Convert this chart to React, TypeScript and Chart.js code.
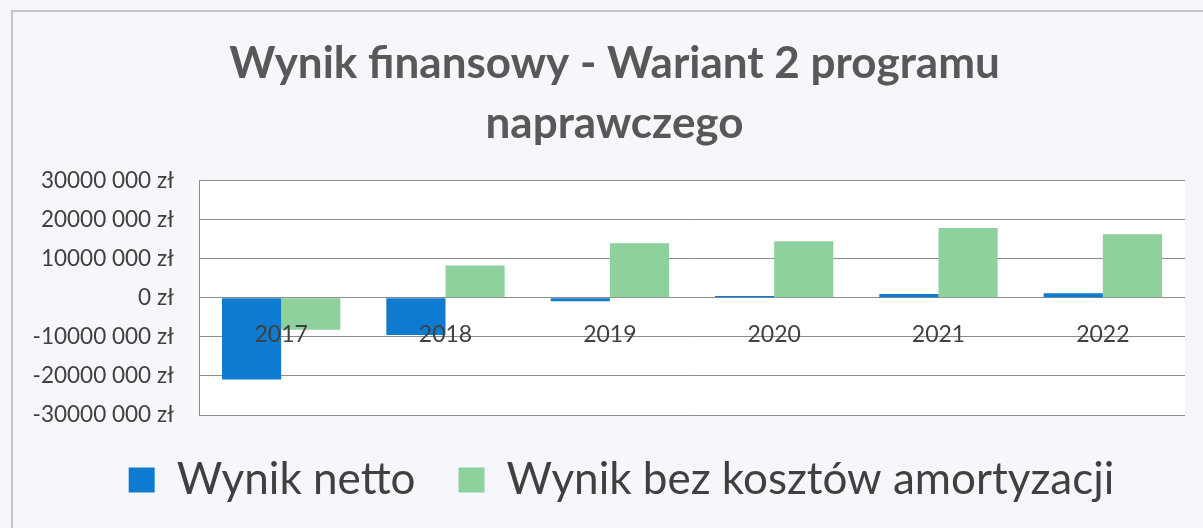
import React, { useEffect, useRef } from 'react';
import { Chart, registerables } from 'chart.js';

Chart.register(...registerables);

const titleLines = ['Wynik finansowy - Wariant 2 programu', 'naprawczego'];
const categories = ['2017', '2018', '2019', '2020', '2021', '2022'];
const seriesNames = ['Wynik netto', 'Wynik bez kosztów amortyzacji'];
const netResult = [-20900000, -9500000, -900000, 450000, 1000000, 1200000];
const resultExDepreciation = [-8200000, 8300000, 14000000, 14500000, 17900000, 16300000];
const yTickValues = [-30000000, -20000000, -10000000, 0, 10000000, 20000000, 30000000];
const yTickLabels = [
  '-30000 000 zł',
  '-20000 000 zł',
  '-10000 000 zł',
  '0 zł',
  '10000 000 zł',
  '20000 000 zł',
  '30000 000 zł',
];

const FONT = 'Lato';
const TEXT_COLOR = '#404040';
const GRID_COLOR = '#8c8c8c';

const backgroundPlugin = {
  id: 'pageBackground',
  afterLayout(chart: any) {
    // the reference legend and title sit slightly right of the canvas centre
    if (chart.legend) {
      chart.legend.left += 22;
      chart.legend.right += 22;
    }
    if (chart.titleBlock) {
      chart.titleBlock.left += 15;
      chart.titleBlock.right += 15;
    }
  },
  beforeDraw(chart: any) {
    const { ctx, chartArea, width, height } = chart;
    ctx.save();
    ctx.fillStyle = '#f5f7fa';
    ctx.fillRect(0, 0, width, height);
    ctx.fillStyle = '#ffffff';
    ctx.fillRect(chartArea.left, chartArea.top, chartArea.right - chartArea.left, chartArea.bottom - chartArea.top);
    ctx.strokeStyle = '#c4c4c4';
    ctx.lineWidth = 2;
    ctx.beginPath();
    ctx.moveTo(12, height);
    ctx.lineTo(12, 11);
    ctx.lineTo(width, 11);
    ctx.stroke();
    ctx.restore();
  },
};

export default function App() {
  const canvasRef = useRef<HTMLCanvasElement | null>(null);

  useEffect(() => {
    if (!canvasRef.current) return;
    const chart = new Chart(canvasRef.current, {
      type: 'bar',
      data: {
        labels: categories,
        datasets: [
          {
            label: seriesNames[0],
            data: netResult,
            backgroundColor: '#0f7bd0',
            borderWidth: 0,
          },
          {
            label: seriesNames[1],
            data: resultExDepreciation,
            backgroundColor: '#8ed19d',
            borderWidth: 0,
          },
        ],
      },
      options: {
        responsive: false,
        animation: false,
        devicePixelRatio: 1,
        layout: { padding: { left: 14, right: 18, top: 0, bottom: 16 } },
        datasets: {
          bar: { categoryPercentage: 0.72, barPercentage: 1.0 },
        },
        scales: {
          x: {
            position: { y: 0 },
            grid: { display: false, drawTicks: false },
            border: { display: false },
            ticks: {
              z: 1,
              color: TEXT_COLOR,
              font: { family: FONT, size: 23 },
              padding: 23,
            },
          },
          y: {
            min: -30000000,
            max: 30000000,
            afterFit(scale: any) {
              scale.width = 185;
            },
            grid: { color: GRID_COLOR, lineWidth: 1, drawTicks: false },
            border: { display: true, color: GRID_COLOR, width: 1 },
            afterBuildTicks(scale: any) {
              scale.ticks = yTickValues.map((v) => ({ value: v }));
            },
            ticks: {
              color: TEXT_COLOR,
              font: { family: FONT, size: 22.5 },
              padding: 25,
              callback(value: any) {
                const i = yTickValues.indexOf(Number(value));
                return i >= 0 ? yTickLabels[i] : '';
              },
            },
          },
        },
        plugins: {
          title: {
            display: true,
            text: titleLines,
            color: '#585858',
            font: { family: FONT, size: 44, weight: 'bold', lineHeight: 1.36 },
            padding: { top: 34, bottom: 27 },
          },
          legend: {
            display: true,
            position: 'bottom',
            labels: {
              boxWidth: 26,
              boxHeight: 25,
              padding: 43,
              color: TEXT_COLOR,
              font: { family: FONT, size: 44 },
            },
          },
          tooltip: { enabled: false },
        },
      },
      plugins: [backgroundPlugin],
    });
    return () => chart.destroy();
  }, []);

  return (
    <div style={{ position: 'absolute', left: 0, top: 0, width: 1203, height: 528 }}>
      <canvas ref={canvasRef} width={1203} height={528} style={{ display: 'block' }} />
    </div>
  );
}
